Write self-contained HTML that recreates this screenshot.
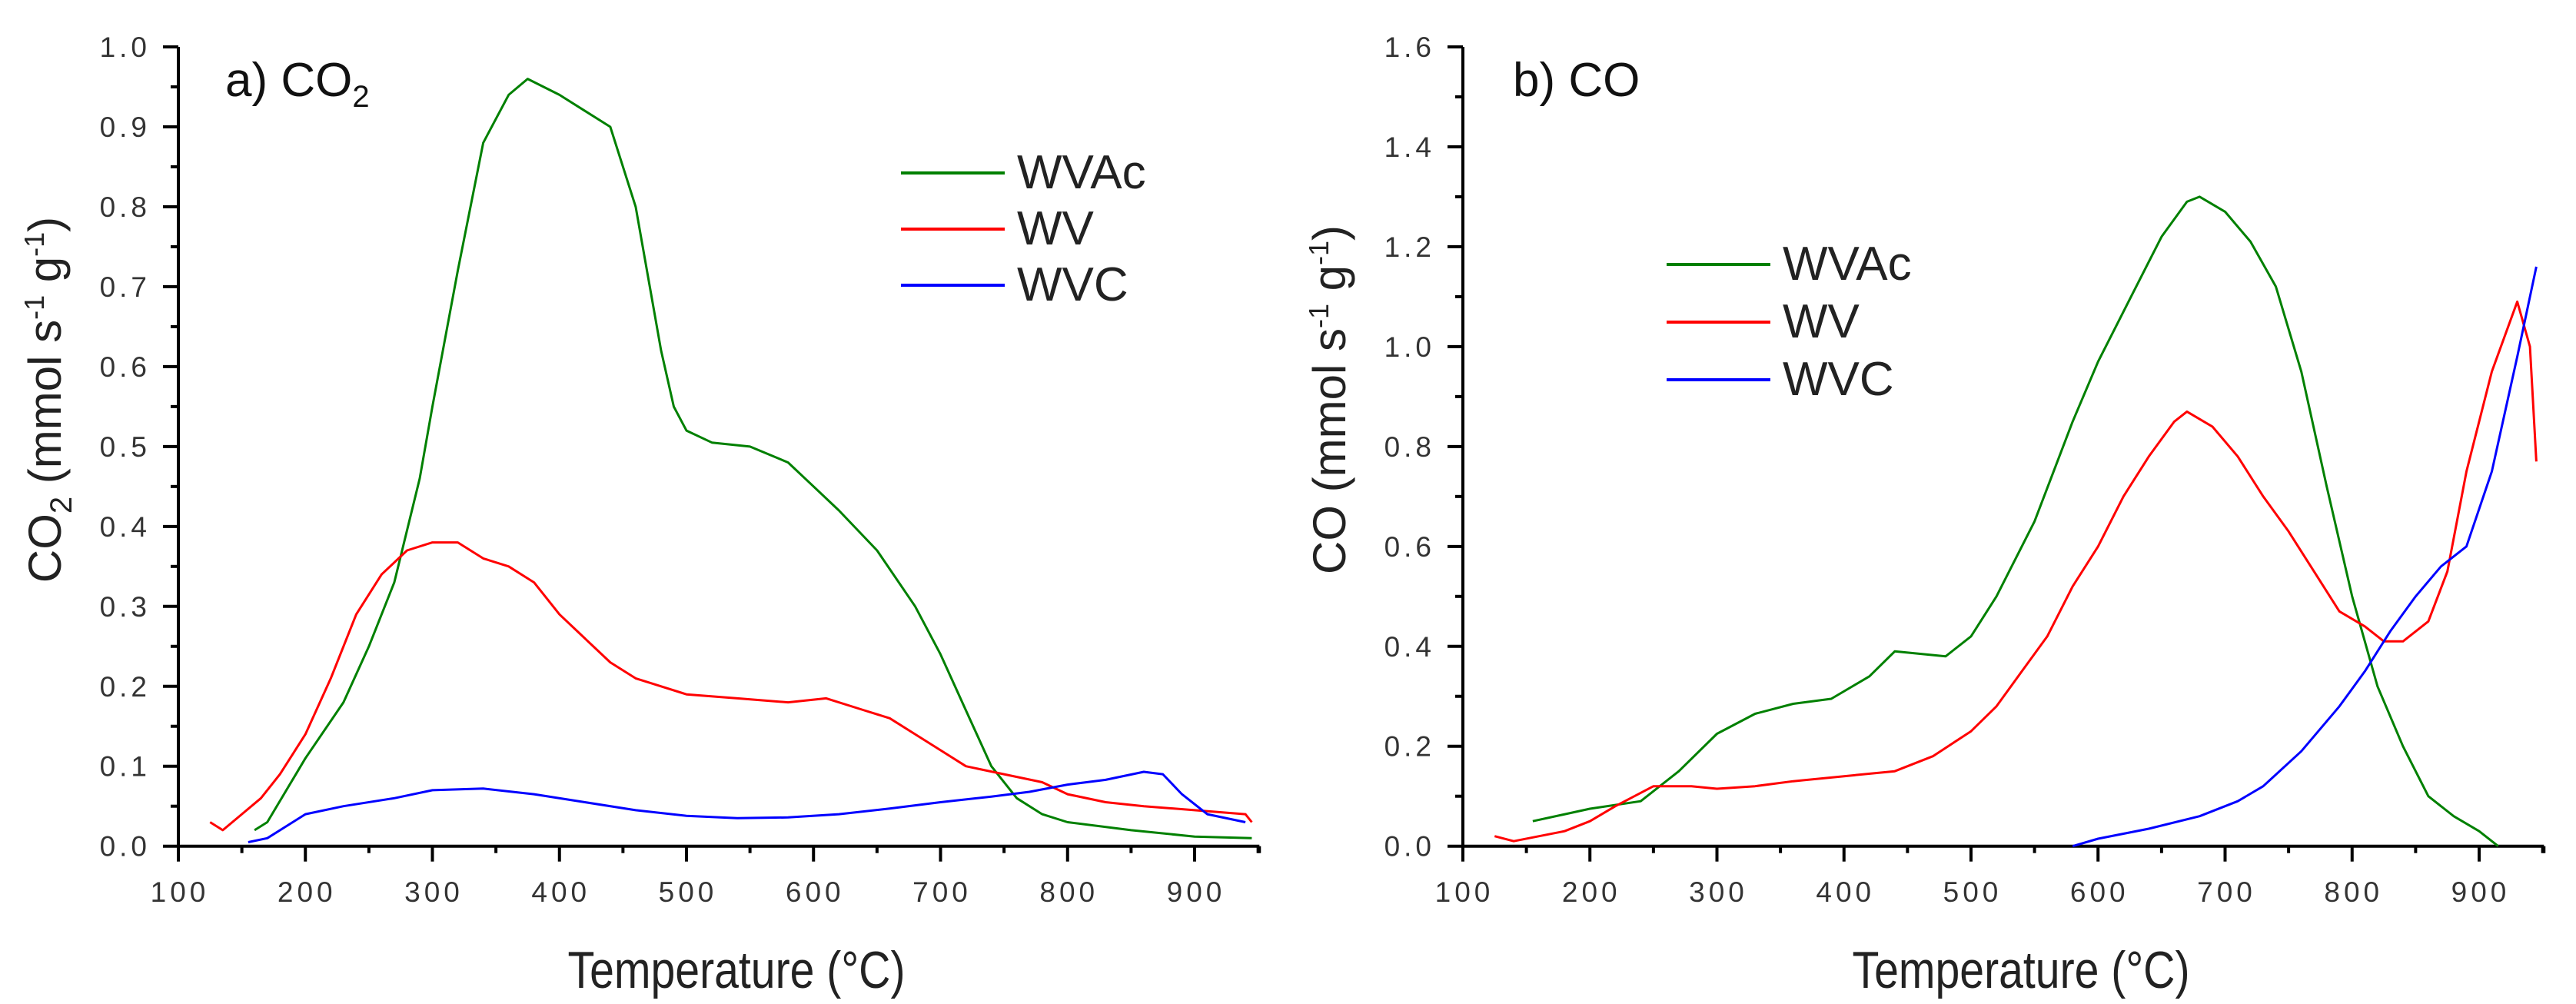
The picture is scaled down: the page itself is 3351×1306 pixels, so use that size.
<!DOCTYPE html>
<html><head><meta charset="utf-8"><style>
html,body{margin:0;padding:0;background:#fff;}
svg{display:block;font-family:"Liberation Sans",Arial,sans-serif;}
</style></head><body>
<svg id="fig" width="3351" height="1306" viewBox="0 0 3351 1306" xmlns="http://www.w3.org/2000/svg"></svg>
<script>
// ---- Chart a) CO2 data ----
const co2_wvac_T = [160,170,200,230,250,270,290,300,320,340,360,375,400,420,440,460,480,490,500,520,550,580,600,620,650,680,700,720,740,760,780,800,850,900,945];
const co2_wvac_V = [0.02,0.03,0.11,0.18,0.25,0.33,0.46,0.55,0.72,0.88,0.94,0.96,0.94,0.92,0.90,0.80,0.62,0.55,0.52,0.505,0.50,0.48,0.45,0.42,0.37,0.30,0.24,0.17,0.10,0.06,0.04,0.03,0.02,0.012,0.01];
const co2_wv_T = [125,135,150,165,180,200,220,240,260,280,300,320,340,360,380,400,420,440,460,480,500,540,580,610,640,660,680,700,720,750,780,800,830,860,900,940,945];
const co2_wv_V = [0.03,0.02,0.04,0.06,0.09,0.14,0.21,0.29,0.34,0.37,0.38,0.38,0.36,0.35,0.33,0.29,0.26,0.23,0.21,0.20,0.19,0.185,0.18,0.185,0.17,0.16,0.14,0.12,0.10,0.09,0.08,0.065,0.055,0.05,0.045,0.04,0.03];
const co2_wvc_T = [155,170,200,230,270,300,340,380,420,460,500,540,580,620,660,700,740,770,800,830,860,875,890,910,940];
const co2_wvc_V = [0.005,0.01,0.04,0.05,0.06,0.07,0.072,0.065,0.055,0.045,0.038,0.035,0.036,0.04,0.047,0.055,0.062,0.068,0.077,0.083,0.093,0.09,0.065,0.04,0.03];
const co2_yticks = ["0.0","0.1","0.2","0.3","0.4","0.5","0.6","0.7","0.8","0.9","1.0"];
// ---- Chart b) CO data ----
const co_wvac_T = [155,200,240,270,300,330,360,390,420,440,460,480,500,520,550,580,600,630,650,670,680,700,720,740,760,780,800,820,840,860,880,900,915];
const co_wvac_V = [0.05,0.075,0.09,0.15,0.225,0.265,0.285,0.295,0.34,0.39,0.385,0.38,0.42,0.5,0.65,0.85,0.97,1.12,1.22,1.29,1.30,1.27,1.21,1.12,0.95,0.72,0.5,0.32,0.2,0.1,0.06,0.03,0.0];
const co_wv_T = [125,140,160,180,200,220,250,280,300,330,360,400,440,470,500,520,540,560,580,600,620,640,660,670,690,710,730,750,770,790,810,825,840,860,875,890,910,930,940,945];
const co_wv_V = [0.02,0.01,0.02,0.03,0.05,0.08,0.12,0.12,0.115,0.12,0.13,0.14,0.15,0.18,0.23,0.28,0.35,0.42,0.52,0.6,0.7,0.78,0.85,0.87,0.84,0.78,0.7,0.63,0.55,0.47,0.44,0.41,0.41,0.45,0.55,0.75,0.95,1.09,1.0,0.77];
const co_wvc_T = [580,600,640,680,710,730,760,790,810,830,850,870,890,910,930,945];
const co_wvc_V = [0.0,0.015,0.035,0.06,0.09,0.12,0.19,0.28,0.35,0.43,0.5,0.56,0.6,0.75,0.98,1.16];
const co_yticks = ["0.0","0.2","0.4","0.6","0.8","1.0","1.2","1.4","1.6"];
const xticks = ["100","200","300","400","500","600","700","800","900"];
const seriesNames = ["WVAc","WV","WVC"];
const seriesColors = ["#008000","#ff0000","#0000ff"];

const NS="http://www.w3.org/2000/svg";
const svg=document.getElementById('fig');
function mk(tag,attrs,parent){const e=document.createElementNS(NS,tag);for(const k in attrs)e.setAttribute(k,attrs[k]);(parent||svg).appendChild(e);return e;}

function drawChart(cfg){
  const g=mk('g',{});
  
  
  const x0=cfg.ax, yb=1100.7, yt=61, xend=cfg.ax+(951-100)*cfg.px;
  const xs=t=>x0+(t-100)*cfg.px;
  const ys=v=>yb-(v/cfg.ymax)*(yb-yt);
  // axes
  const ax=mk('path',{d:`M${x0},${yt} V${yb} H${xend}`,stroke:'#000','stroke-width':4,fill:'none'},g);
  
  
  mk('line',{x1:x0-20,y1:yt,x2:x0,y2:yt,stroke:'#000','stroke-width':4},g);
  mk('line',{x1:xend,y1:yb,x2:xend,y2:yb+9,stroke:'#000','stroke-width':4},g);
  // y ticks
  const n=cfg.yticks.length-1;
  for(let i=0;i<=n;i++){
    const v=cfg.ymax*i/n, y=ys(v);
    mk('line',{x1:x0-20,y1:y,x2:x0,y2:y,stroke:'#000','stroke-width':4},g);
    if(i<n){const ym=ys(v+cfg.ymax/n/2);mk('line',{x1:x0-10,y1:ym,x2:x0,y2:ym,stroke:'#000','stroke-width':4},g);}
    const t=mk('text',{x:x0-36,y:y+13,'text-anchor':'end','font-size':37,fill:'#333','letter-spacing':5},g);
    t.textContent=cfg.yticks[i];
    
    
  }
  // x ticks
  xticks.forEach((lab,i)=>{
    const T=100+i*100, x=xs(T);
    mk('line',{x1:x,y1:yb,x2:x,y2:yb+20,stroke:'#000','stroke-width':4},g);
    const xm=xs(T+50); if(T+50<951) mk('line',{x1:xm,y1:yb,x2:xm,y2:yb+9,stroke:'#000','stroke-width':4},g);
    const t=mk('text',{x:x+2,y:1173,'text-anchor':'middle','font-size':37,fill:'#333','letter-spacing':5},g);
    t.textContent=lab;
    
    
  });
  // series
  cfg.series.forEach((s,k)=>{
    const d=s.T.map((T,i)=>(i?'L':'M')+xs(T).toFixed(1)+','+ys(s.V[i]).toFixed(1)).join(' ');
    const p=mk('path',{d:d,stroke:seriesColors[k],'stroke-width':3,fill:'none','stroke-linejoin':'round'},g);
    
    
  });
  // legend
  seriesNames.forEach((nm,k)=>{
    const ly=cfg.legY+k*cfg.legDy;
    const l=mk('line',{x1:cfg.legX,y1:ly,x2:cfg.legX+135,y2:ly,stroke:seriesColors[k],'stroke-width':4},g);
    
    
    const t=mk('text',{x:cfg.legX+151,y:ly+20,'font-size':62,fill:'#222'},g);
    t.textContent=nm;
    
    
  });
  // panel label
  const pl=mk('text',{x:cfg.panelX,y:125,'font-size':62,fill:'#111'},g);
  
  
  pl.innerHTML=cfg.panel;
  // axis titles
  const xt=mk('text',{x:cfg.ax+726,y:1285,'text-anchor':'middle','font-size':68,fill:'#222',textLength:439,lengthAdjust:'spacingAndGlyphs'},g);
  xt.textContent='Temperature (\u00B0C)';
  
  
  const yt2=mk('text',{x:0,y:0,'text-anchor':'middle','font-size':60,fill:'#222',transform:`translate(${cfg.ax-153},${cfg.ylabY}) rotate(-90)`},g);
  yt2.innerHTML=cfg.ylab;
  
  
}

drawChart({name:'co2-chart',ax:232,px:1.6525,ymax:1.0,yticks:co2_yticks,
  series:[{T:co2_wvac_T,V:co2_wvac_V},{T:co2_wv_T,V:co2_wv_V},{T:co2_wvc_T,V:co2_wvc_V}],
  legX:1172,legY:225,legDy:73,panelX:293,
  panel:'a) CO<tspan font-size="40" dy="14">2</tspan>',
  ylabY:520,ylab:'CO<tspan font-size="40" dy="14">2</tspan><tspan dy="-14"> (mmol s</tspan><tspan font-size="36" dy="-22">-1</tspan><tspan dy="22"> g</tspan><tspan font-size="36" dy="-22">-1</tspan><tspan dy="22">)</tspan>'});
drawChart({name:'co-chart',ax:1903,px:1.6525,ymax:1.6,yticks:co_yticks,
  series:[{T:co_wvac_T,V:co_wvac_V},{T:co_wv_T,V:co_wv_V},{T:co_wvc_T,V:co_wvc_V}],
  legX:2168,legY:344,legDy:75,panelX:1968,
  panel:'b) CO',
  ylabY:520,ylab:'CO (mmol s<tspan font-size="36" dy="-22">-1</tspan><tspan dy="22"> g</tspan><tspan font-size="36" dy="-22">-1</tspan><tspan dy="22">)</tspan>'});
</script>
</body></html>
